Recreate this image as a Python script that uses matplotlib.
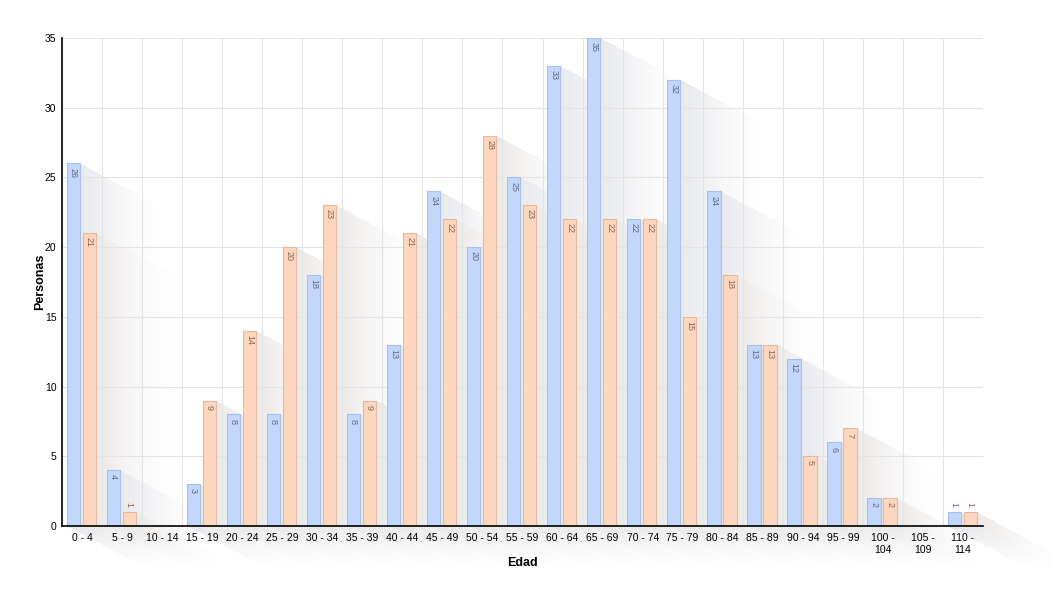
import matplotlib

matplotlib.use("Agg")

import matplotlib.pyplot as plt
import numpy as np

plt.rcParams["font.family"] = ["Liberation Sans", "DejaVu Sans"]

categories = ["0 - 4", "5 - 9", "10 - 14", "15 - 19", "20 - 24", "25 - 29", "30 - 34",
              "35 - 39", "40 - 44", "45 - 49", "50 - 54", "55 - 59", "60 - 64", "65 - 69",
              "70 - 74", "75 - 79", "80 - 84", "85 - 89", "90 - 94", "95 - 99",
              "100 -\n104", "105 -\n109", "110 -\n114"]
blue_values = [26, 4, 0, 3, 8, 8, 18, 8, 13, 24, 20, 25, 33, 35, 22, 32, 24, 13, 12, 6, 2, 0, 1]
orange_values = [21, 1, 0, 9, 14, 20, 23, 9, 21, 22, 28, 23, 22, 22, 22, 15, 18, 13, 5, 7, 2, 0, 1]

BLUE_FILL, BLUE_EDGE, BLUE_TEXT = "#c3d7fb", "#a8c0ec", "#5a6a88"
ORANGE_FILL, ORANGE_EDGE, ORANGE_TEXT = "#fdd6c0", "#e6b9a0", "#8a6452"

W, H = 1050, 601
fig = plt.figure(figsize=(W / 100, H / 100), dpi=100)
ax = fig.add_axes([62 / W, 75 / H, 921 / W, 488 / H])
ax.patch.set_alpha(0)

n = len(categories)
x = np.arange(n)
width = 0.33
offsets = (0.28, 0.68)

ax.set_xlim(0, n)
ax.set_ylim(0, 35)

bars_b = ax.bar(x + offsets[0], blue_values, width, color=BLUE_FILL, edgecolor=BLUE_EDGE,
                linewidth=0.8, zorder=3)
bars_o = ax.bar(x + offsets[1], orange_values, width, color=ORANGE_FILL, edgecolor=ORANGE_EDGE,
                linewidth=0.8, zorder=3)

# diagonal fading shadows, computed on the pixel grid
slope = 0.53
length = 90.0
px, py = np.meshgrid(np.arange(W) + 0.5, np.arange(H) + 0.5)
alpha = np.zeros((H, W))
rgb_acc = np.zeros((H, W, 3))
shade_cols = {0: np.array([70, 80, 105]) / 255, 1: np.array([105, 85, 75]) / 255}
for group, bars in enumerate((bars_b, bars_o)):
    for bar in bars:
        if bar.get_height() <= 0:
            continue
        (x0, y0), (x1, y1) = ax.transData.transform(
            [(bar.get_x(), 0), (bar.get_x() + bar.get_width(), bar.get_height())])
        ytop, ybot = H - y1, H - y0
        tmin = np.maximum.reduce([np.zeros_like(px), px - x1, (py - ybot) / slope])
        tmax = np.minimum.reduce([np.full_like(px, length), px - x0, (py - ytop) / slope])
        ok = tmin <= tmax
        a = np.where(ok, 0.13 * np.clip(1 - tmin / length, 0, 1) ** 1.6, 0)
        better = a > alpha
        alpha = np.where(better, a, alpha)
        rgb_acc[better] = shade_cols[group]

img = np.dstack([rgb_acc, alpha])
fig.figimage(img, 0, 0, origin="upper", zorder=-1)

for bars, vals, tc in ((bars_b, blue_values, BLUE_TEXT), (bars_o, orange_values, ORANGE_TEXT)):
    for bar, v in zip(bars, vals):
        if v <= 0:
            continue
        cx = bar.get_x() + bar.get_width() / 2
        if v >= 2:
            ax.text(cx, v - 0.3, str(v), rotation=-90, ha="center", va="top",
                    fontsize=6.5, color=tc, zorder=4)
        else:
            ax.text(cx, v + 0.35, str(v), rotation=-90, ha="center", va="bottom",
                    fontsize=6.5, color=tc, zorder=4)

ax.set_xticks(x + 0.5)
ax.set_xticklabels(categories, fontsize=7.5)
ax.set_yticks(np.arange(0, 36, 5))
ax.tick_params(axis="y", labelsize=7.5, length=0, pad=4)
ax.tick_params(axis="x", length=0, pad=5)

ax.set_xticks(np.arange(0, n + 1), minor=True)
ax.tick_params(axis="x", which="minor", length=0)
ax.grid(axis="x", which="minor", color="#e4e4e4", linewidth=0.8, zorder=0)
ax.grid(axis="y", which="major", color="#e4e4e4", linewidth=0.8, zorder=0)
ax.grid(axis="x", which="major", visible=False)
ax.set_axisbelow(True)

for side in ("top", "right"):
    ax.spines[side].set_visible(False)
ax.spines["left"].set_linewidth(1.2)
ax.spines["bottom"].set_linewidth(1.2)
ax.spines["left"].set_zorder(5)
ax.spines["bottom"].set_zorder(5)

ax.set_xlabel("Edad", fontsize=9, fontweight="bold", labelpad=1.5)
ax.set_ylabel("Personas", fontsize=9, fontweight="bold", labelpad=-1)

fig.savefig("out.png", dpi=100)
plt.close(fig)
